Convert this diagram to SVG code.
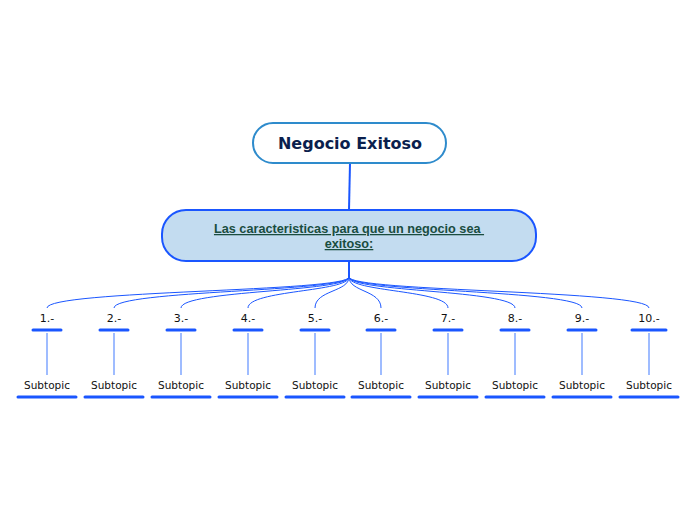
<svg xmlns="http://www.w3.org/2000/svg" width="696" height="520" viewBox="0 0 696 520">
<style>
.lbl{font-family:"DejaVu Sans",Verdana,sans-serif;font-size:11px;fill:#111;text-anchor:middle}
.st{font-size:10.5px}
.bar{stroke:#1a56ff;stroke-width:3;stroke-linecap:round}
.sub{stroke:#1a56ff;stroke-width:3;stroke-linecap:round}
.vl{stroke:#7fa6ff;stroke-width:1.5}
.fan{fill:none;stroke:#1a56ff;stroke-width:1}
</style>
<rect width="696" height="520" fill="#fff"/>
<g id="connectors">
<line x1="350" y1="163" x2="349" y2="210" stroke="#1a56ff" stroke-width="2"/>
<line x1="349" y1="261" x2="349" y2="277" stroke="#1a56ff" stroke-width="2"/>
<path class="fan" d="M349,277 C349,292 47,290 47,308"/>
<path class="fan" d="M349,277 C349,292 114,290 114,308"/>
<path class="fan" d="M349,277 C349,292 181,290 181,308"/>
<path class="fan" d="M349,277 C349,292 248,290 248,308"/>
<path class="fan" d="M349,277 C349,292 315,290 315,308"/>
<path class="fan" d="M349,277 C349,292 381,290 381,308"/>
<path class="fan" d="M349,277 C349,292 448,290 448,308"/>
<path class="fan" d="M349,277 C349,292 515,290 515,308"/>
<path class="fan" d="M349,277 C349,292 582,290 582,308"/>
<path class="fan" d="M349,277 C349,292 649,290 649,308"/>
<line class="vl" x1="47" y1="333" x2="47" y2="375"/>
<line class="vl" x1="114" y1="333" x2="114" y2="375"/>
<line class="vl" x1="181" y1="333" x2="181" y2="375"/>
<line class="vl" x1="248" y1="333" x2="248" y2="375"/>
<line class="vl" x1="315" y1="333" x2="315" y2="375"/>
<line class="vl" x1="381" y1="333" x2="381" y2="375"/>
<line class="vl" x1="448" y1="333" x2="448" y2="375"/>
<line class="vl" x1="515" y1="333" x2="515" y2="375"/>
<line class="vl" x1="582" y1="333" x2="582" y2="375"/>
<line class="vl" x1="649" y1="333" x2="649" y2="375"/>
</g>
<g id="root">
<rect x="253" y="123" width="193" height="40" rx="20" fill="#fff" stroke="#2e8bcc" stroke-width="2"/>
<text x="350" y="149" font-family="'DejaVu Sans',Verdana,sans-serif" font-weight="bold" font-size="16" fill="#0b1f4d" text-anchor="middle">Negocio Exitoso</text>
</g>
<g id="main">
<rect x="162" y="210" width="374" height="51" rx="24" fill="#c3dcf0" stroke="#1a56ff" stroke-width="2"/>
<text font-family="'Liberation Sans',Arial,sans-serif" font-weight="bold" font-size="12.7" fill="#1a4d3f" text-anchor="middle" text-decoration="underline"><tspan x="349" y="233">Las caracteristicas para que un negocio sea </tspan><tspan x="349" y="248">exitoso:</tspan></text>
</g>
<g id="t1"><text class="lbl" x="47" y="322">1.-</text><line class="bar" x1="33" y1="330" x2="61" y2="330"/></g>
<g id="t2"><text class="lbl" x="114" y="322">2.-</text><line class="bar" x1="100" y1="330" x2="128" y2="330"/></g>
<g id="t3"><text class="lbl" x="181" y="322">3.-</text><line class="bar" x1="167" y1="330" x2="195" y2="330"/></g>
<g id="t4"><text class="lbl" x="248" y="322">4.-</text><line class="bar" x1="234" y1="330" x2="262" y2="330"/></g>
<g id="t5"><text class="lbl" x="315" y="322">5.-</text><line class="bar" x1="301" y1="330" x2="329" y2="330"/></g>
<g id="t6"><text class="lbl" x="381" y="322">6.-</text><line class="bar" x1="367" y1="330" x2="395" y2="330"/></g>
<g id="t7"><text class="lbl" x="448" y="322">7.-</text><line class="bar" x1="434" y1="330" x2="462" y2="330"/></g>
<g id="t8"><text class="lbl" x="515" y="322">8.-</text><line class="bar" x1="501" y1="330" x2="529" y2="330"/></g>
<g id="t9"><text class="lbl" x="582" y="322">9.-</text><line class="bar" x1="568" y1="330" x2="596" y2="330"/></g>
<g id="t10"><text class="lbl" x="649" y="322">10.-</text><line class="bar" x1="632" y1="330" x2="666" y2="330"/></g>
<g id="s1"><text class="lbl st" x="47" y="389">Subtopic</text><line class="sub" x1="18" y1="397" x2="76" y2="397"/></g>
<g id="s2"><text class="lbl st" x="114" y="389">Subtopic</text><line class="sub" x1="85" y1="397" x2="143" y2="397"/></g>
<g id="s3"><text class="lbl st" x="181" y="389">Subtopic</text><line class="sub" x1="152" y1="397" x2="210" y2="397"/></g>
<g id="s4"><text class="lbl st" x="248" y="389">Subtopic</text><line class="sub" x1="219" y1="397" x2="277" y2="397"/></g>
<g id="s5"><text class="lbl st" x="315" y="389">Subtopic</text><line class="sub" x1="286" y1="397" x2="344" y2="397"/></g>
<g id="s6"><text class="lbl st" x="381" y="389">Subtopic</text><line class="sub" x1="352" y1="397" x2="410" y2="397"/></g>
<g id="s7"><text class="lbl st" x="448" y="389">Subtopic</text><line class="sub" x1="419" y1="397" x2="477" y2="397"/></g>
<g id="s8"><text class="lbl st" x="515" y="389">Subtopic</text><line class="sub" x1="486" y1="397" x2="544" y2="397"/></g>
<g id="s9"><text class="lbl st" x="582" y="389">Subtopic</text><line class="sub" x1="553" y1="397" x2="611" y2="397"/></g>
<g id="s10"><text class="lbl st" x="649" y="389">Subtopic</text><line class="sub" x1="620" y1="397" x2="678" y2="397"/></g>
</svg>
